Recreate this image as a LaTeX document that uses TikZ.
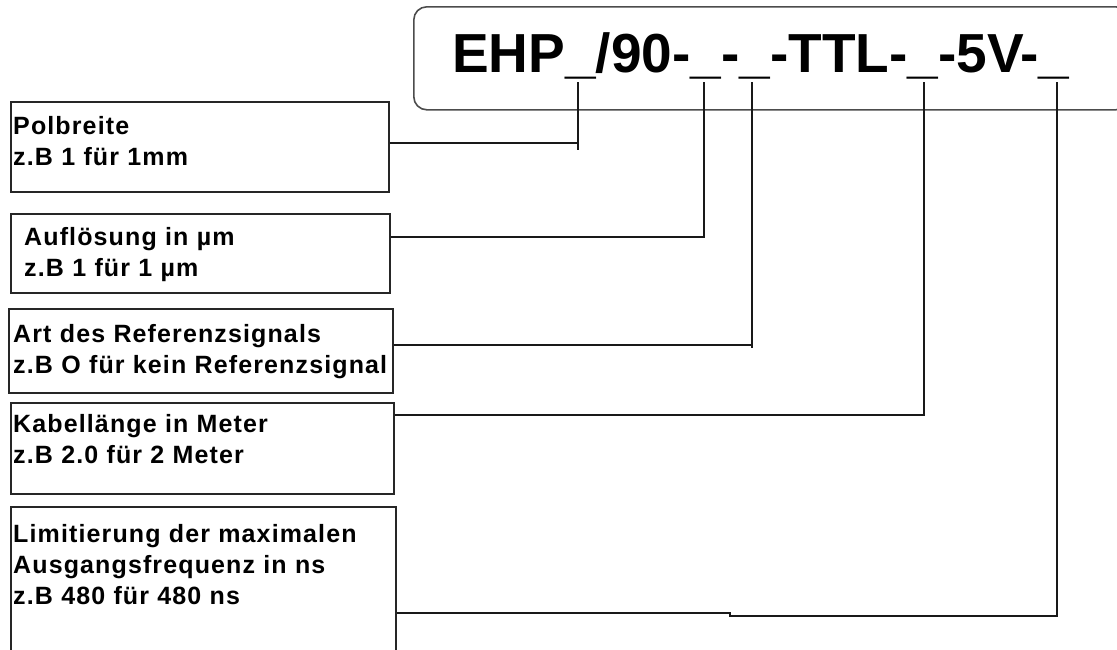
\documentclass[tikz,border=0pt]{standalone}
\usepackage{fontspec}
\setmainfont{Liberation Sans}
\newfontfamily\lblfont{Liberation Sans}[LetterSpace=4.5]
\usetikzlibrary{calc}
\begin{document}
\begin{tikzpicture}[x=1pt,y=-1pt,
  frame/.style={draw=black!70,line width=1.6pt,rounded corners=13pt,rectangle,inner sep=0,anchor=north west},
  lbox/.style={draw=black!85,line width=1.7pt,rectangle,inner sep=0,anchor=north west},
  ltxt/.style={anchor=base west,inner sep=0,text width=380pt,align=left,
    font=\lblfont\bfseries\fontsize{25pt}{31pt}\selectfont},
  conn/.style={draw=black!90,line width=1.5pt},
  codetxt/.style={anchor=base west,inner sep=0,font=\bfseries\fontsize{55pt}{60pt}\selectfont}]
\useasboundingbox (0,0) rectangle (1117,649);
\clip (0,0) rectangle (1117,649);

% header
\node[frame,minimum width=715pt,minimum height=103pt] (hdr) at (413,6) {};
\node[codetxt] (code) at (452,72) {EHP\_/90-\_-\_-TTL-\_-5V-\_};

% underscore positions
\coordinate (u1) at (578,82);
\coordinate (u2) at (704,82);
\coordinate (u3) at (752,82);
\coordinate (u4) at (924,82);
\coordinate (u5) at (1057,82);

% label boxes
\node[lbox,minimum width=378pt,minimum height=90pt] (b1) at (10,101) {};
\node[lbox,minimum width=379pt,minimum height=79pt] (b2) at (10,213) {};
\node[lbox,minimum width=384pt,minimum height=84pt] (b3) at (8,308) {};
\node[lbox,minimum width=383pt,minimum height=91pt] (b4) at (10,402) {};
\node[lbox,minimum width=385pt,minimum height=170pt] (b5) at (10,506) {};

\node[ltxt] (t1) at (13,134) {Polbreite\\z.B 1 für 1mm};
\node[ltxt] (t2) at (24,245) {Auflösung in µm\\z.B 1 für 1 µm};
\node[ltxt] (t3) at (13,342) {Art des Referenzsignals\\z.B O für kein Referenzsignal};
\node[ltxt] (t4) at (13,432) {Kabellänge in Meter\\z.B 2.0 für 2 Meter};
\node[ltxt] (t5) at (13,542) {Limitierung der maximalen\\Ausgangsfrequenz in ns\\z.B 480 für 480 ns};

% connectors
\coordinate (s1) at (578,150);
\coordinate (s3) at (752,348);
\coordinate (j1) at (730,613);
\coordinate (j2) at (730,616);

\draw[conn] ([yshift=-42pt]b1.north east) -| (u1);
\draw[conn] (u1) -- (s1);
\draw[conn] ([yshift=-24pt]b2.north east) -| (u2);
\draw[conn] ([yshift=-37pt]b3.north east) -| (u3);
\draw[conn] (u3) -- (s3);
\draw[conn] ([yshift=-13pt]b4.north east) -| (u4);
\draw[conn] ([yshift=-107pt]b5.north east) -- (j1) -- (j2) -| (u5);
\end{tikzpicture}
\end{document}
